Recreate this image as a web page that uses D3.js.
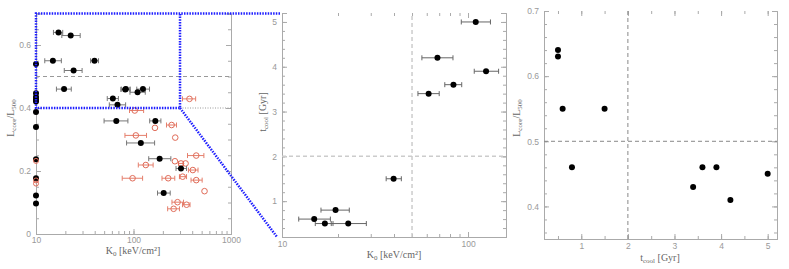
<!DOCTYPE html>
<html>
<head>
<meta charset="utf-8">
<script src="https://cdn.jsdelivr.net/npm/d3@7"></script>
<style>
  body { margin: 0; background: #fff; }
  svg { display: block; font-family: 'Liberation Serif', 'DejaVu Serif', serif; }
  .axis path, .axis line { stroke: #aaa; }
  .axis text { fill: #999; }
  .title { fill: #666; font-size: 10px; }
</style>
</head>
<body>
<svg width="789" height="269"></svg>
<script>
// clusters inside the box, shown in all three panels
const boxK0 = [17.0, 22.7, 14.9, 39.8, 19.4, 61.4, 83.5, 125, 68.5, 110]
const boxK0Lo = [15.1, 18.4, 12.3, 36.3, 16.2, 53.8, 75.0, 108, 56.5, 92]
const boxK0Hi = [18.8, 28.4, 18.2, 43.8, 23.0, 70.0, 92.5, 146, 83.0, 132]
const boxL = [0.64, 0.63, 0.55, 0.55, 0.46, 0.43, 0.46, 0.46, 0.41, 0.45]
const boxTcool = [0.5, 0.5, 0.6, 1.5, 0.8, 3.4, 3.6, 3.9, 4.2, 5.0]

// other black clusters (left panel only)
const otherK0 = [24.3, 82.2, 66.6, 167.5, 118.9, 185.4, 307, 203.9]
const otherK0Lo = [19.5, 74.2, 49.9, 146.6, 84.9, 143.3, 273, 176.3]
const otherK0Hi = [29.7, 91.6, 87.6, 191, 164.6, 241.6, 350, 238]
const otherL = [0.519, 0.459, 0.359, 0.359, 0.289, 0.239, 0.208, 0.130]

// black clusters sitting on the K0 = 10 edge
const edgeBlackL = [0.54, 0.447, 0.435, 0.427, 0.421, 0.387, 0.34, 0.237, 0.177, 0.122, 0.097]
const edgeRedL = [0.232, 0.17, 0.16]

// red open circles
const redK0 = [375, 103, 166, 246, 105.7, 268, 440, 133.7, 266, 307, 342, 406, 319, 440, 97.8, 227, 535, 283, 350, 258]
const redK0Lo = [318, 91, 166, 218, 81.7, 268, 358, 112, 266, 290, 342, 366, 296, 389, 76.6, 196, 535, 248, 318, 224]
const redK0Hi = [434, 127, 166, 276, 136, 268, 527, 159, 266, 325, 342, 459, 350, 506, 124, 265, 535, 326, 380, 296]
const redL = [0.429, 0.392, 0.337, 0.346, 0.313, 0.306, 0.249, 0.219, 0.231, 0.224, 0.224, 0.203, 0.182, 0.171, 0.177, 0.177, 0.136, 0.101, 0.093, 0.080]

const boxK0Max = 300, boxLMin = 0.4
const lCut = 0.5, k0Cut = 50, tCut = 2

const svg = d3.select('svg')

function frame (g, x, y, xMajor, xMinor, yMajor, yMinor, xFmt, yFmt, top, xPad) {
    const [x0, x1] = x.range(), [y0, y1] = y.range()
    g.append('g').attr('class', 'axis').attr('transform', `translate(0,${y0})`)
	.call(d3.axisBottom(x).tickValues(xMinor).tickSize(-3).tickFormat(''))
    g.append('g').attr('class', 'axis').attr('transform', `translate(0,${y0})`)
	.call(d3.axisBottom(x).tickValues(xMajor).tickSize(-5).tickPadding(xPad).tickFormat(xFmt))
    g.append('g').attr('class', 'axis').attr('transform', `translate(${x0},0)`)
	.call(d3.axisLeft(y).tickValues(yMinor).tickSize(-3).tickFormat(''))
    g.append('g').attr('class', 'axis').attr('transform', `translate(${x0},0)`)
	.call(d3.axisLeft(y).tickValues(yMajor).tickSize(-5).tickPadding(5).tickFormat(yFmt))
    g.append('g').attr('class', 'axis').attr('transform', `translate(${x1},0)`)
	.call(d3.axisRight(y).tickValues(yMinor).tickSize(-3).tickFormat(''))
    g.append('g').attr('class', 'axis').attr('transform', `translate(${x1},0)`)
	.call(d3.axisRight(y).tickValues(yMajor).tickSize(-5).tickFormat(''))
    if (top) {
	g.append('g').attr('class', 'axis top').attr('transform', `translate(0,${y1})`)
	    .call(d3.axisTop(x).tickValues(xMinor).tickSize(-3).tickFormat(''))
	g.append('g').attr('class', 'axis top').attr('transform', `translate(0,${y1})`)
	    .call(d3.axisTop(x).tickValues(xMajor).tickSize(-5).tickFormat(''))
	g.selectAll('.top path').remove()
    }
    g.selectAll('.axis text').style('font-size', '8.5px')
}

function errBars (g, data, x, y, color) {
    g.selectAll(null).data(data).enter().append('line')
	.attr('x1', d => x(d.lo)).attr('x2', d => x(d.hi))
	.attr('y1', d => y(d.v)).attr('y2', d => y(d.v))
	.attr('stroke', color).attr('stroke-width', 1)
    data.forEach(d => {
	if (d.lo == d.hi) return
	;[d.lo, d.hi].forEach(e => {
	    g.append('line')
		.attr('x1', x(e)).attr('x2', x(e))
		.attr('y1', y(d.v) - 2.5).attr('y2', y(d.v) + 2.5)
		.attr('stroke', color).attr('stroke-width', 1)
	})
    })
}

function title (g, x, y, main, sub, rest, rotate) {
    let t = g.append('text').attr('class', 'title')
	.attr('text-anchor', 'middle')
	.attr('transform', `translate(${x},${y})` + (rotate ? ' rotate(-90)' : ''))
    t.append('tspan').text(main)
    t.append('tspan').attr('font-size', '7px').attr('dy', 2).text(sub)
    t.append('tspan').attr('dy', -2).text(rest)
    return t
}

const logMinor = (a, b) => d3.range(a, b + 1e-9, a).filter(v => v % (a * 10) != 0)
const ticksBetween = (a, b, s) => d3.range(a, b + 1e-9, s).map(v => +v.toFixed(4))

// ---------- panel 1 ----------
const xK = d3.scaleLog().domain([10, 1000]).range([36, 231])
const yL = d3.scaleLinear().domain([0, 0.7]).range([234, 13.5])
const g1 = svg.append('g')
frame(g1, xK, yL, [10, 100, 1000], logMinor(10, 90).concat(logMinor(100, 900)),
      [0, 0.2, 0.4, 0.6], ticksBetween(0, 0.7, 0.05),
      d => d, d => d == 0 ? '0' : d3.format('.1f')(d), false, 3)

g1.append('line')
    .attr('x1', xK(10)).attr('x2', xK(1000)).attr('y1', yL(lCut)).attr('y2', yL(lCut))
    .attr('stroke', '#999').attr('stroke-dasharray', '4,3')
g1.append('line')
    .attr('x1', xK(boxK0Max)).attr('x2', xK(1000)).attr('y1', yL(boxLMin)).attr('y2', yL(boxLMin))
    .attr('stroke', '#999').attr('stroke-dasharray', '1,1.5')

const redData = redK0.map((k, i) => ({k: k, lo: redK0Lo[i], hi: redK0Hi[i], v: redL[i]}))
errBars(g1, redData, xK, yL, '#e57f6c')
g1.selectAll('.red').data(redData).enter().append('circle')
    .attr('cx', d => xK(d.k)).attr('cy', d => yL(d.v)).attr('r', 2.8)
    .attr('fill', 'none').attr('stroke', '#e06b58').attr('stroke-width', 1)

const blackData = boxK0.map((k, i) => ({k: k, lo: boxK0Lo[i], hi: boxK0Hi[i], v: boxL[i]}))
    .concat(otherK0.map((k, i) => ({k: k, lo: otherK0Lo[i], hi: otherK0Hi[i], v: otherL[i]})))
errBars(g1, blackData, xK, yL, '#777')
g1.selectAll('.blk').data(blackData).enter().append('circle')
    .attr('cx', d => xK(d.k)).attr('cy', d => yL(d.v)).attr('r', 3).attr('fill', '#000')
g1.selectAll('.edge').data(edgeBlackL).enter().append('circle')
    .attr('cx', xK(10)).attr('cy', d => yL(d)).attr('r', 3).attr('fill', '#000')
g1.selectAll('.edgered').data(edgeRedL).enter().append('circle')
    .attr('cx', xK(10)).attr('cy', d => yL(d)).attr('r', 2.5)
    .attr('fill', 'none').attr('stroke', '#e06b58').attr('stroke-width', 1)

title(g1, 133, 254, 'K', '0', ' [keV/cm²]', false)
title(g1, 14, 118, 'L', 'core', '/L', true).append('tspan').attr('font-size', '7px').attr('dy', 2).text('500')

// ---------- panel 2 ----------
const xK2 = d3.scaleLog().domain([10, 160]).range([282, 506])
const yT = d3.scaleLinear().domain([0.2, 5.2]).range([237, 13])
const g2 = svg.append('g')
frame(g2, xK2, yT, [10, 100], logMinor(10, 90),
      [1, 2, 3, 4, 5], ticksBetween(0.4, 5.2, 0.2),
      d => d, d => d, true, 4)
g2.append('line')
    .attr('x1', xK2(k0Cut)).attr('x2', xK2(k0Cut)).attr('y1', yT(0.2)).attr('y2', yT(5.2))
    .attr('stroke', '#ccc').attr('stroke-width', 1.5).attr('stroke-dasharray', '4,3')
g2.append('line')
    .attr('x1', xK2(10)).attr('x2', xK2(160)).attr('y1', yT(tCut)).attr('y2', yT(tCut))
    .attr('stroke', '#ccc').attr('stroke-width', 1.5).attr('stroke-dasharray', '4,3')
const coolData = boxK0.map((k, i) => ({k: k, lo: boxK0Lo[i], hi: boxK0Hi[i], v: boxTcool[i]}))
errBars(g2, coolData, xK2, yT, '#666')
g2.selectAll('.cool').data(coolData).enter().append('circle')
    .attr('cx', d => xK2(d.k)).attr('cy', d => yT(d.v)).attr('r', 3).attr('fill', '#000')
title(g2, 394, 258, 'K', '0', ' [keV/cm²]', false)
title(g2, 266, 112, 't', 'cool', ' [Gyr]', true)

// ---------- panel 3 ----------
const xT = d3.scaleLinear().domain([0.2, 5.2]).range([544, 777])
const yL3 = d3.scaleLinear().domain([0.35, 0.7]).range([239, 11])
const g3 = svg.append('g')
frame(g3, xT, yL3, [1, 2, 3, 4, 5], ticksBetween(0.5, 5, 0.5),
      [0.4, 0.5, 0.6, 0.7], ticksBetween(0.36, 0.7, 0.02),
      d => d, d3.format('.1f'), true, 4)
g3.append('line')
    .attr('x1', xT(0.2)).attr('x2', xT(5.2)).attr('y1', yL3(lCut)).attr('y2', yL3(lCut))
    .attr('stroke', '#888').attr('stroke-dasharray', '4,3')
g3.append('line')
    .attr('x1', xT(tCut)).attr('x2', xT(tCut)).attr('y1', yL3(0.35)).attr('y2', yL3(0.7))
    .attr('stroke', '#888').attr('stroke-dasharray', '4,3')
g3.selectAll('.tl').data(boxTcool).enter().append('circle')
    .attr('cx', d => xT(d)).attr('cy', (d, i) => yL3(boxL[i])).attr('r', 3).attr('fill', '#000')
title(g3, 660, 261, 't', 'cool', ' [Gyr]', false)
title(g3, 520, 118, 'L', 'core', '/L', true).append('tspan').attr('font-size', '7px').attr('dy', 2).text('500')

// ---------- blue zoom box ----------
const blue = svg.append('g').attr('fill', 'none').attr('stroke', '#1f1fff')
    .attr('stroke-width', 2.5).attr('stroke-dasharray', '1.5,1.2')
blue.append('path').attr('d', d3.line()([
    [xK2(10) - 2, yL(0.7)], [xK(10), yL(0.7)], [xK(10), yL(boxLMin)],
    [xK(boxK0Max), yL(boxLMin)], [xK(boxK0Max), yL(0.7)]]))
blue.append('path').attr('d', d3.line()([[xK(boxK0Max), yL(boxLMin)], [xK2(10) - 5, yT(0.2)]]))
</script>
</body>
</html>
